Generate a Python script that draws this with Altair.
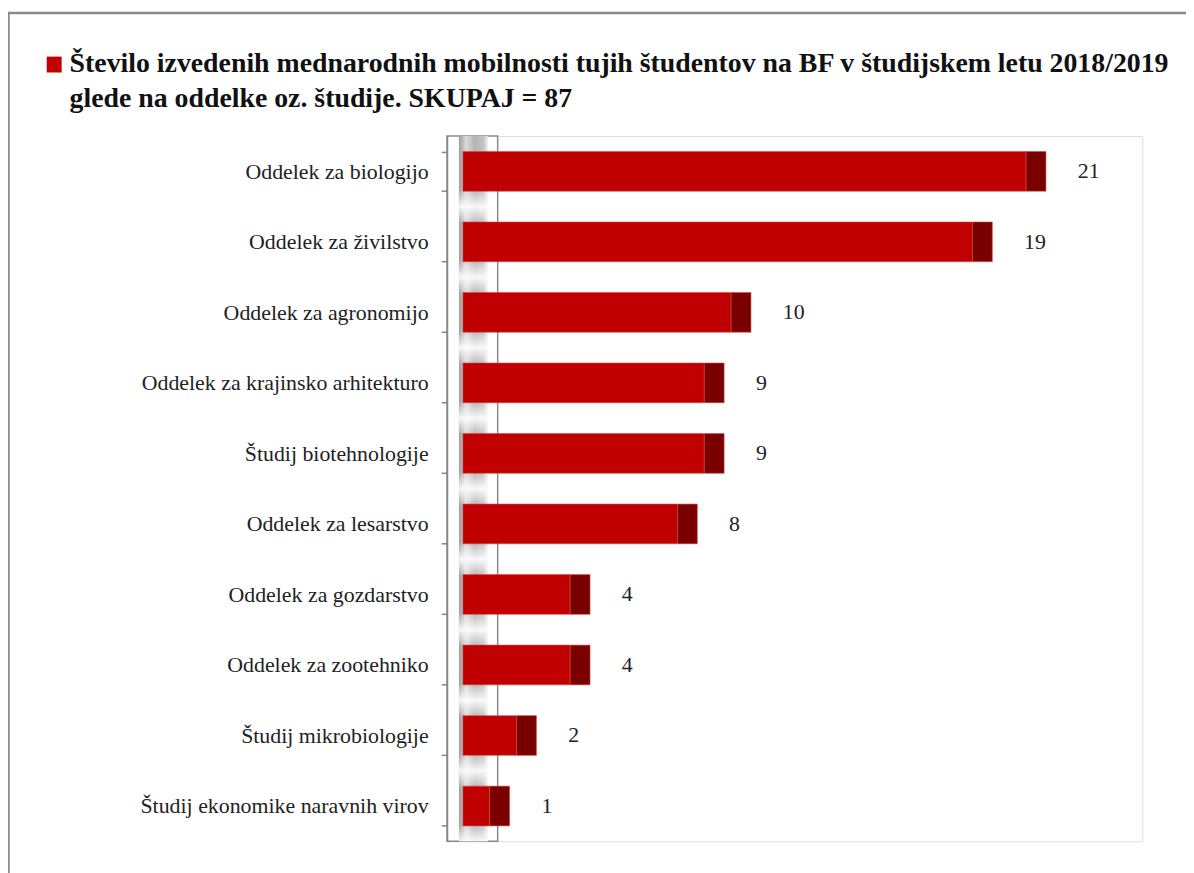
import altair as alt
import pandas as pd

categories = [
    "Oddelek za biologijo",
    "Oddelek za živilstvo",
    "Oddelek za agronomijo",
    "Oddelek za krajinsko arhitekturo",
    "Študij biotehnologije",
    "Oddelek za lesarstvo",
    "Oddelek za gozdarstvo",
    "Oddelek za zootehniko",
    "Študij mikrobiologije",
    "Študij ekonomike naravnih virov",
]
values = [21, 19, 10, 9, 9, 8, 4, 4, 2, 1]
title_lines = [
    "Število izvedenih mednarodnih mobilnosti tujih študentov na BF v študijskem letu 2018/2019",
    "glede na oddelke oz. študije. SKUPAJ = 87",
]

FONT = "Liberation Serif"
W, H = 700, 710
PX = 27.0            # pixels per unit
X0 = -16 / PX        # axis sits 16px left of bar start
DEPTH = 20 / PX      # 3D depth of bar end

df = pd.DataFrame({"cat": categories, "v": values})

yaxis = alt.Axis(
    title=None,
    labelFont=FONT,
    labelFontSize=22,
    labelColor="#222222",
    labelPadding=13,
    labelLimit=400,
    tickBand="extent",
    tickSize=6,
    tickColor="#888888",
    domainColor="#888888",
    domainWidth=1.5,
    tickWidth=1.5,
    zindex=1,
)
yscale = alt.Scale(type="band", paddingInner=0.437, paddingOuter=0.2185)
ysh = alt.Y("cat:N", sort=categories, scale=yscale, axis=yaxis)
xscale = alt.Scale(domain=[X0, X0 + W / PX], nice=False, zero=False)

one = pd.DataFrame({"a": [0]})

frame = alt.Chart(one).mark_rect(fill="transparent", stroke="#8a8a8a", strokeWidth=2.5).encode(
    x=alt.value(-441.5), x2=alt.value(900), y=alt.value(-124), y2=alt.value(900)
)

wall = alt.Chart(one).mark_rect(fill="white", stroke="#8a8a8a", strokeWidth=1.5).encode(
    x=alt.value(0), x2=alt.value(51), y=alt.value(0), y2=alt.value(H)
)

strip = alt.Chart(one).mark_rect(
    fill=alt.Gradient(
        gradient="linear", x1=0, y1=0, x2=1, y2=0,
        stops=[
            alt.GradientStop(offset=0, color="#9c9c9c"),
            alt.GradientStop(offset=0.25, color="#dadada"),
            alt.GradientStop(offset=0.55, color="#b4b4b4"),
            alt.GradientStop(offset=0.85, color="#c4c4c4"),
            alt.GradientStop(offset=1, color="#ededed"),
        ],
    )
).encode(x=alt.value(12), x2=alt.value(41), y=alt.value(0), y2=alt.value(H))

base = alt.Chart(df)

glow = base.mark_bar(
    clip=True,
    size=34,
    yOffset=35.5,
    fill=alt.Gradient(
        gradient="linear", x1=0, y1=0, x2=0, y2=1,
        stops=[
            alt.GradientStop(offset=0, color="rgba(255,255,255,0)"),
            alt.GradientStop(offset=0.5, color="rgba(255,255,255,0.9)"),
            alt.GradientStop(offset=1, color="rgba(255,255,255,0)"),
        ],
    ),
).encode(x=alt.value(12), x2=alt.value(41), y=ysh)

front = base.transform_calculate(z="0").mark_bar(
    size=40, color="#c00000", stroke="#d24a4a", strokeWidth=0.6
).encode(
    y=ysh,
    x=alt.X("z:Q", scale=xscale, axis=None),
    x2="v:Q",
)

end = base.transform_calculate(e=f"datum.v + {DEPTH}").mark_bar(
    size=40, color="#7a0000", stroke="#d24a4a", strokeWidth=0.6
).encode(
    y=ysh,
    x=alt.X("v:Q", scale=xscale, axis=None),
    x2="e:Q",
)

labels = base.transform_calculate(e=f"datum.v + {DEPTH}").mark_text(
    align="left", baseline="middle", dx=32, font=FONT, fontSize=22, color="#222222"
).encode(
    y=ysh,
    x=alt.X("e:Q", scale=xscale, axis=None),
    text="v:Q",
)

tdf = pd.DataFrame({"t": title_lines, "i": [0, 1]})
title = alt.Chart(tdf).mark_text(
    align="left", baseline="alphabetic", font=FONT, fontSize=28, fontWeight="bold", color="#111111"
).encode(
    x=alt.value(-380),
    y=alt.value(-64),
    yOffset=alt.YOffset("i:Q", scale=alt.Scale(domain=[0, 1], range=[0, 35])),
    text="t:N",
)

square = alt.Chart(one).mark_rect(color="#c00000").encode(
    x=alt.value(-403), x2=alt.value(-388), y=alt.value(-80), y2=alt.value(-64)
)

chart = alt.layer(
    frame, wall, strip, glow, front, end, labels, title, square
).properties(
    width=W,
    height=H,
    autosize=alt.AutoSizeParams(type="none"),
    padding={"left": 442, "top": 126, "right": 44, "bottom": 29},
).configure_view(stroke="transparent", strokeWidth=0, fill="white").configure(background="white")

chart.save("out.html", embed_options={"renderer": "svg", "actions": False})
